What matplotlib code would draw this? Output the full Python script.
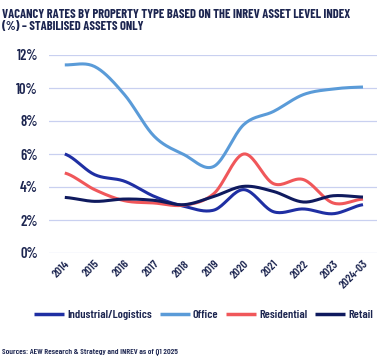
import matplotlib
matplotlib.use('Agg')
import matplotlib.pyplot as plt
import numpy as np

years = ['2014', '2015', '2016', '2017', '2018', '2019', '2020', '2021', '2022', '2023', '2024-03']
industrial = [6.0, 4.75, 4.35, 3.43, 2.83, 2.6, 3.84, 2.5, 2.67, 2.38, 2.93]
office = [11.4, 11.3, 9.6, 7.07, 5.96, 5.25, 7.78, 8.58, 9.6, 9.94, 10.06]
residential = [4.85, 3.84, 3.17, 3.03, 2.9, 3.6, 6.0, 4.2, 4.45, 3.03, 3.27]
retail = [3.37, 3.13, 3.27, 3.19, 2.93, 3.43, 4.04, 3.73, 3.09, 3.47, 3.39]

navy = '#1c2550'
plt.rcParams['font.family'] = ['Barlow Condensed', 'DejaVu Sans']


def smooth(y, n=20):
    # catmull-rom spline through the points, only for drawing
    y = np.asarray(y, float)
    x = np.arange(len(y), dtype=float)
    p = np.concatenate([[y[0]], y, [y[-1]]])
    xs, ys = [], []
    for i in range(len(y) - 1):
        p0, p1, p2, p3 = p[i], p[i + 1], p[i + 2], p[i + 3]
        t = np.linspace(0, 1, n, endpoint=False)
        m1 = (p2 - p0) / 2
        m2 = (p3 - p1) / 2
        h00 = 2 * t**3 - 3 * t**2 + 1
        h10 = t**3 - 2 * t**2 + t
        h01 = -2 * t**3 + 3 * t**2
        h11 = t**3 - t**2
        ys.append(h00 * p1 + h10 * m1 + h01 * p2 + h11 * m2)
        xs.append(x[i] + t)
    xs.append([x[-1]])
    ys.append([y[-1]])
    return np.concatenate(xs), np.concatenate(ys)


fig = plt.figure(figsize=(3.84, 3.61), dpi=100)
ax = fig.add_axes([49 / 384, 1 - 253 / 361, 328 / 384, 198 / 361])

series = [('Industrial/Logistics', industrial, '#1f2fa3'),
          ('Office', office, '#5a9bd8'),
          ('Residential', residential, '#f0575a'),
          ('Retail', retail, '#0f1a5e')]
for name, vals, col in series:
    xs, ys = smooth(vals)
    ax.plot(xs, ys, color=col, lw=2.2, label=name, solid_capstyle='butt')

ax.set_ylim(0, 12)
ax.set_xlim(-0.53, len(years) - 1 + 0.47)
ax.set_yticks(np.arange(0, 13, 2))
ax.set_yticklabels([f'{v}%' for v in range(0, 13, 2)])
ax.set_xticks(range(len(years)))
ax.set_xticklabels(years, rotation=45, ha='right', rotation_mode='anchor')
ax.grid(axis='y', color='#c9d0f0', lw=0.9)
ax.set_axisbelow(True)
for s in ax.spines.values():
    s.set_visible(False)
ax.tick_params(length=0, colors=navy)
ax.tick_params(axis='y', labelsize=10.5, pad=8)
ax.tick_params(axis='x', labelsize=8.5, pad=4)
for lab in ax.get_xticklabels() + ax.get_yticklabels():
    lab.set_fontweight('semibold')

title = fig.text(0.005, 0.975, 'VACANCY RATES BY PROPERTY TYPE BASED ON THE INREV ASSET LEVEL INDEX\n(%) – STABILISED ASSETS ONLY',
                 fontsize=10, fontweight='bold', color=navy, va='top', ha='left', linespacing=1.1)

src = fig.text(0.005, 1 - 352 / 361, 'Sources: AEW Research & Strategy and INREV as of Q1 2025',
               fontsize=7, fontweight='semibold', color=navy, va='center', ha='left')


def make_legend(size):
    u = size * 100 / 72  # pixels per font unit
    leg = fig.legend(loc='center', bbox_to_anchor=(203.5 / 384, 1 - 315 / 361), ncol=4, frameon=False,
                     fontsize=size, handlelength=30 / u, columnspacing=8 / u, handletextpad=3 / u,
                     borderpad=0, borderaxespad=0)
    for t in leg.get_texts():
        t.set_color(navy)
        t.set_fontweight('semibold')
    for l in leg.get_lines():
        l.set_linewidth(2.5)
    return leg


# scale texts so they span the same width as in the reference
r = fig.canvas.get_renderer()
for txt, target in [(title, 351), (src, 176)]:
    w = txt.get_window_extent(r).width
    txt.set_fontsize(txt.get_fontsize() * target / w)

size = 11
leg = make_legend(size)
for _ in range(3):
    w = leg.get_window_extent(r).width
    leg.remove()
    size *= 335 / w
    leg = make_legend(size)

fig.savefig('out.png', dpi=100)
